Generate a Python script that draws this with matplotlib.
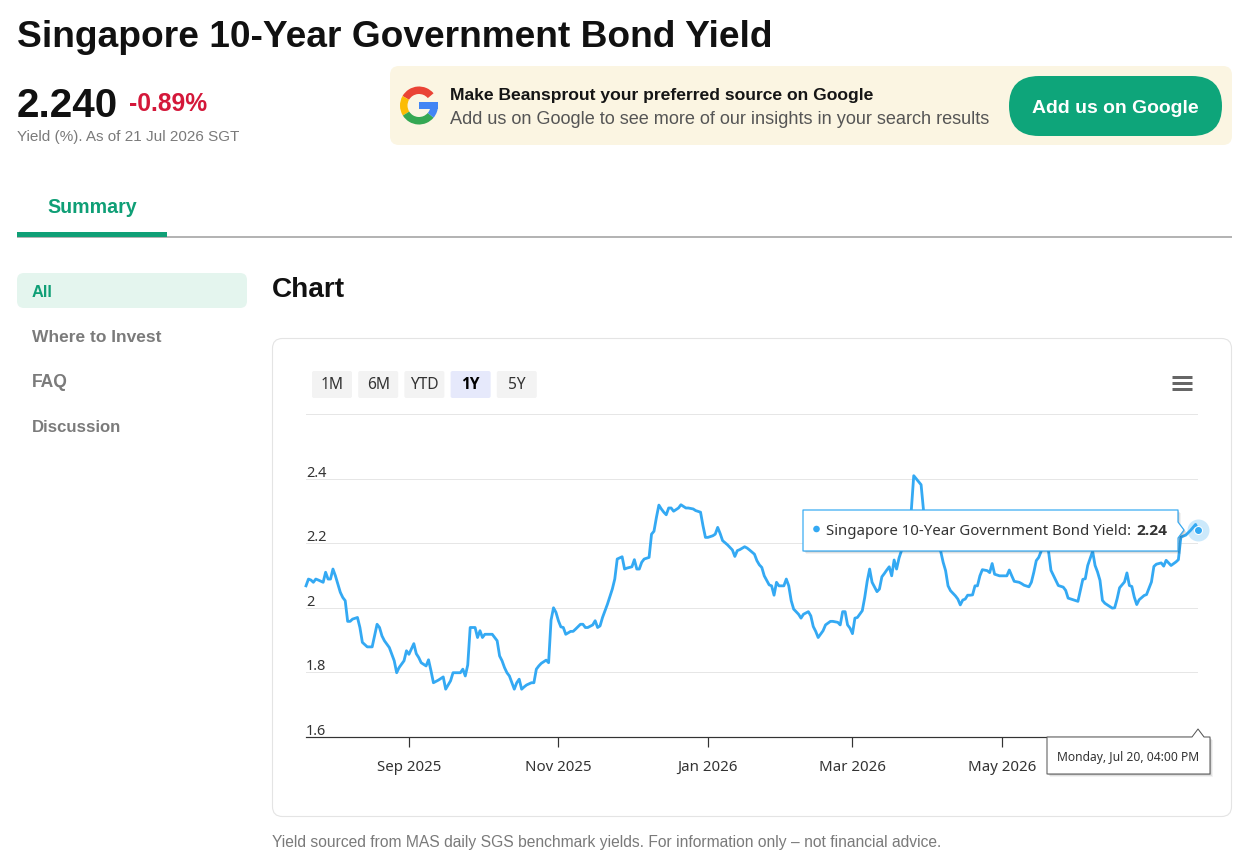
import matplotlib
matplotlib.use("Agg")
import matplotlib.pyplot as plt
import matplotlib.dates as mdates
from matplotlib.patches import FancyBboxPatch, Rectangle, Wedge, Polygon, Circle
import pandas as pd

W, H = 1251, 855
PX = 0.72  # points per pixel at dpi 100

# ---------------- data ----------------
start_date = "2025-07-21"
day_offset = [0, 1, 2, 3, 4, 5, 7, 8, 9, 10, 11, 12, 13, 14, 15, 16, 17, 18, 19, 21,
              22, 23, 25, 26, 27, 29, 30, 31, 32, 34, 35, 36, 37, 38, 40, 41, 42, 44, 45, 46,
              47, 49, 50, 51, 52, 54, 56, 57, 59, 60, 61, 63, 64, 65, 66, 67, 68, 69, 70, 71,
              72, 73, 75, 76, 78, 79, 80, 81, 82, 83, 85, 86, 87, 88, 89, 90, 92, 93, 94, 95,
              96, 98, 99, 100, 101, 102, 103, 104, 105, 106, 108, 109, 110, 112, 113, 114, 115, 117, 118, 119,
              120, 121, 123, 124, 125, 126, 127, 129, 130, 131, 133, 134, 135, 136, 137, 138, 140, 141, 142, 143,
              144, 145, 146, 147, 148, 149, 150, 152, 153, 155, 156, 158, 159, 161, 162, 163, 164, 166, 167, 168,
              169, 170, 172, 173, 174, 175, 176, 177, 179, 180, 181, 183, 184, 185, 186, 187, 189, 190, 191, 192,
              193, 194, 195, 196, 197, 198, 199, 201, 202, 203, 205, 206, 207, 208, 209, 211, 212, 214, 215, 217,
              218, 219, 220, 221, 222, 223, 224, 225, 227, 228, 229, 230, 231, 233, 234, 235, 236, 237, 238, 239,
              240, 241, 242, 243, 245, 247, 248, 251, 252, 254, 256, 259, 260, 261, 262, 263, 265, 266, 267, 268,
              269, 270, 271, 272, 273, 274, 275, 276, 278, 279, 280, 281, 283, 284, 286, 287, 288, 289, 291, 292,
              293, 295, 296, 297, 298, 299, 300, 301, 303, 304, 306, 307, 309, 310, 311, 313, 315, 316, 317, 318,
              319, 321, 322, 323, 324, 325, 326, 328, 329, 330, 331, 332, 334, 335, 336, 337, 338, 339, 340, 342,
              343, 345, 346, 347, 349, 350, 351, 352, 353, 355, 356, 357, 359, 361, 363, 364]
yield_pct = [2.068, 2.089, 2.086, 2.079, 2.089, 2.086, 2.079, 2.110, 2.089, 2.089, 2.120, 2.099, 2.073, 2.048, 2.032, 2.022, 1.958, 1.958, 1.965, 1.970,
             1.939, 1.893, 1.879, 1.879, 1.879, 1.949, 1.939, 1.913, 1.898, 1.877, 1.856, 1.836, 1.799, 1.815, 1.836, 1.867, 1.856, 1.889, 1.858, 1.846,
             1.830, 1.820, 1.839, 1.805, 1.768, 1.776, 1.786, 1.748, 1.774, 1.799, 1.799, 1.799, 1.810, 1.789, 1.823, 1.939, 1.939, 1.939, 1.908, 1.929,
             1.908, 1.918, 1.918, 1.918, 1.898, 1.851, 1.836, 1.815, 1.799, 1.789, 1.748, 1.768, 1.779, 1.748, 1.755, 1.761, 1.768, 1.768, 1.810, 1.820,
             1.828, 1.838, 1.830, 1.962, 2.000, 1.986, 1.960, 1.941, 1.939, 1.918, 1.927, 1.927, 1.934, 1.949, 1.949, 1.939, 1.939, 1.947, 1.960, 1.939,
             1.944, 1.970, 2.011, 2.034, 2.058, 2.089, 2.151, 2.158, 2.120, 2.123, 2.127, 2.149, 2.120, 2.120, 2.141, 2.151, 2.156, 2.228, 2.237, 2.280,
             2.318, 2.306, 2.296, 2.288, 2.309, 2.309, 2.299, 2.309, 2.319, 2.309, 2.309, 2.306, 2.301, 2.296, 2.254, 2.218, 2.218, 2.223, 2.228, 2.249,
             2.230, 2.208, 2.195, 2.187, 2.179, 2.159, 2.177, 2.180, 2.189, 2.185, 2.179, 2.166, 2.146, 2.133, 2.125, 2.099, 2.071, 2.068, 2.039, 2.079,
             2.068, 2.068, 2.068, 2.089, 2.068, 2.022, 1.996, 1.980, 1.968, 1.980, 1.988, 1.975, 1.942, 1.927, 1.908, 1.929, 1.947, 1.958, 1.958, 1.955,
             1.947, 1.988, 1.988, 1.947, 1.937, 1.920, 1.968, 1.970, 1.991, 2.032, 2.082, 2.120, 2.079, 2.050, 2.058, 2.096, 2.106, 2.117, 2.127, 2.099,
             2.148, 2.120, 2.154, 2.177, 2.240, 2.301, 2.409, 2.381, 2.301, 2.250, 2.210, 2.175, 2.141, 2.115, 2.068, 2.053, 2.037, 2.027, 2.009, 2.024,
             2.027, 2.039, 2.039, 2.040, 2.068, 2.068, 2.099, 2.118, 2.115, 2.109, 2.137, 2.104, 2.099, 2.099, 2.099, 2.117, 2.099, 2.082, 2.079, 2.075,
             2.070, 2.065, 2.079, 2.110, 2.146, 2.156, 2.175, 2.210, 2.175, 2.116, 2.085, 2.069, 2.064, 2.054, 2.030, 2.025, 2.020, 2.054, 2.088, 2.090,
             2.131, 2.175, 2.131, 2.111, 2.085, 2.023, 2.014, 2.004, 1.999, 2.000, 2.028, 2.062, 2.080, 2.108, 2.069, 2.066, 2.033, 2.010, 2.025, 2.038,
             2.041, 2.080, 2.128, 2.135, 2.139, 2.129, 2.147, 2.139, 2.131, 2.142, 2.149, 2.219, 2.225, 2.240, 2.258, 2.240]

y_ticks = [1.6, 1.8, 2.0, 2.2, 2.4, 2.6]
y_tick_labels = ["1.6", "1.8", "2", "2.2", "2.4", ""]
x_tick_dates = ["2025-09-01", "2025-11-01", "2026-01-01", "2026-03-01", "2026-05-01"]
x_tick_labels = ["Sep 2025", "Nov 2025", "Jan 2026", "Mar 2026", "May 2026"]
range_buttons = ["1M", "6M", "YTD", "1Y", "5Y"]
active_range = "1Y"
sidebar_items = ["All", "Where to Invest", "FAQ", "Discussion"]
series_name = "Singapore 10-Year Government Bond Yield"
last_value_label = "2.24"
hover_date_label = "Monday, Jul 20, 04:00 PM"

dates = pd.Timestamp(start_date) + pd.to_timedelta(day_offset, unit="D")

# ---------------- styling ----------------
PAGE = ["Liberation Sans", "DejaVu Sans"]
CHART = ["Noto Sans", "DejaVu Sans"]
CHART_B = ["Open Sans", "DejaVu Sans"]
GREEN = "#0f9f76"
LINE = "#34a9f3"

fig = plt.figure(figsize=(W / 100, H / 100), dpi=100)
fig.patch.set_facecolor("white")
renderer = fig.canvas.get_renderer()

bg = fig.add_axes([0, 0, 1, 1], zorder=0)
bg.set_xlim(0, W); bg.set_ylim(H, 0); bg.axis("off")
top = fig.add_axes([0, 0, 1, 1], zorder=5)
top.set_xlim(0, W); top.set_ylim(H, 0); top.axis("off")
top.patch.set_alpha(0)


def txt(a, x, y, s, width=None, size=12, **kw):
    t = a.text(x, y, s, fontsize=size, **kw)
    if width:
        w = t.get_window_extent(renderer).width
        t.set_fontsize(size * width / w)
    return t


def rbox(a, x0, y0, x1, y1, r, **kw):
    p = FancyBboxPatch((x0, y0), x1 - x0, y1 - y0,
                       boxstyle=f"round,pad=0,rounding_size={r}", **kw)
    a.add_patch(p)
    return p


# ---------------- header ----------------
txt(bg, 17, 47, series_name, width=755, size=27, family=PAGE, weight="bold",
    color="#111111", va="baseline")
txt(bg, 17, 117, "2.240", width=101, size=29, family=PAGE, weight="bold", color="#111111",
    va="baseline")
txt(bg, 129, 111, "-0.89%", width=78, size=17, family=PAGE, weight="bold", color="#d4183a",
    va="baseline")
txt(bg, 17, 141, "Yield (%). As of 21 Jul 2026 SGT", width=223, size=11, family=PAGE,
    color="#7a7a7a", va="baseline")

# banner
rbox(bg, 390, 66, 1232, 145, 9, facecolor="#fbf5e2", edgecolor="none")
gx, gy, R, rr = 419, 105.5, 19, 11.5
segs = [(40, 150, "#EA4335"), (150, 212, "#FBBC05"), (212, 320, "#34A853"), (320, 360, "#4285F4")]
for a0, a1, c in segs:
    bg.add_patch(Wedge((gx, gy), R, -a1, -a0, width=R - rr, facecolor=c, edgecolor="none"))
bg.add_patch(Rectangle((gx, gy - 3.6), R - 0.3, 7.4, facecolor="#4285F4", edgecolor="none"))
txt(bg, 450, 100, "Make Beansprout your preferred source on Google", width=422, size=12,
    family=PAGE, weight="bold", color="#151515", va="baseline")
txt(bg, 450, 124, "Add us on Google to see more of our insights in your search results",
    width=545, size=12, family=PAGE, color="#555555", va="baseline")
rbox(bg, 1009, 76, 1222, 136, 30, facecolor="#0ea57a", edgecolor="none")
txt(bg, 1115.5, 113, "Add us on Google", width=167, size=14, family=PAGE, weight="bold",
    color="white", ha="center", va="baseline")

# tabs
txt(bg, 47, 212.5, "Summary", width=90, size=14, family=PAGE, weight="bold", color=GREEN,
    va="baseline")
bg.add_patch(Rectangle((17, 236), 1215, 2, facecolor="#b4b4b4", edgecolor="none"))
bg.add_patch(Rectangle((17, 231.5), 150, 5, facecolor=GREEN, edgecolor="none"))

# sidebar
rbox(bg, 17, 273, 247, 308, 7, facecolor="#e4f5ee", edgecolor="none")
side_y = [297, 342, 387, 432]
side_w = [21, 130, 36, 90]
for i, item in enumerate(sidebar_items):
    txt(bg, 32, side_y[i], item, width=side_w[i], size=12.5, family=PAGE, weight="bold",
        color=GREEN if i == 0 else "#7b7b7b", va="baseline")

txt(bg, 272, 297, "Chart", width=73, size=21, family=PAGE, weight="bold", color="#111111",
    va="baseline")

# chart container
rbox(bg, 272.5, 338.5, 1231.5, 816.5, 10, facecolor="white", edgecolor="#e4e4e4", linewidth=0.8)

# range buttons
for i, lab in enumerate(range_buttons):
    x0 = 312 + i * 46.2
    active = lab == active_range
    rbox(bg, x0, 371, x0 + 40, 398, 2, facecolor="#e6e9fb" if active else "#f3f3f3",
         edgecolor="none")
    bg.text(x0 + 20, 385, lab, fontsize=15.5 * PX, family=CHART_B if active else CHART,
            ha="center", va="center",
            color="#000000" if active else "#333333", weight="bold" if active else "normal")

# hamburger
for yy in (377, 383, 389):
    bg.plot([1172, 1192], [yy, yy], color="#666666", lw=3 * PX, solid_capstyle="butt")

txt(bg, 272, 847, "Yield sourced from MAS daily SGS benchmark yields. For information only \u2013 not financial advice.",
    width=671, size=10.3, family=PAGE, color="#7a7a7a", va="baseline")

# ---------------- the chart ----------------
ax = fig.add_axes([306 / W, 1 - 737 / H, (1198 - 306) / W, (737 - 414) / H], zorder=2)
ax.patch.set_alpha(0)
ax.set_xlim(dates[0], dates[-1])
ax.set_ylim(y_ticks[0], y_ticks[-1])
ax.set_yticks(y_ticks)
ax.tick_params(axis="y", length=0, labelleft=False)
ax.yaxis.grid(True, color="#e6e6e6", lw=1 * PX)
ax.set_axisbelow(True)
for s in ("top", "right", "left"):
    ax.spines[s].set_visible(False)
ax.spines["bottom"].set_color("#333333")
ax.spines["bottom"].set_linewidth(1.2 * PX)
ax.spines["bottom"].set_zorder(3)

tick_d = pd.to_datetime(x_tick_dates)
ax.set_xticks(tick_d)
ax.set_xticklabels(x_tick_labels, family=CHART, fontsize=15 * PX, color="#333333")
ax.tick_params(axis="x", length=10 * PX, width=1.2 * PX, color="#333333", pad=12.5 * PX)

for v, lab in zip(y_ticks, y_tick_labels):
    if lab:
        ax.annotate(lab, xy=(dates[0], v), xytext=(0, 2), textcoords="offset pixels",
                    family=CHART, fontsize=14.5 * PX, color="#333333", ha="left", va="baseline",
                    annotation_clip=False)

# crosshair at hovered point
ax.axvline(dates[-1], color="#cccccc", lw=1 * PX, zorder=1)

ax.plot(dates, yield_pct, color=LINE, lw=2.8 * PX, zorder=2, solid_joinstyle="round",
        clip_on=False)
ax.plot(dates[-1], yield_pct[-1], "o", ms=22 * PX, color=LINE, alpha=0.25, mec="none",
        zorder=3, clip_on=False)
ax.plot(dates[-1], yield_pct[-1], "o", ms=8 * PX, color=LINE, mec="white", mew=1 * PX,
        zorder=4, clip_on=False)

# ---------------- tooltips ----------------
tip = [(803, 510), (1178, 510), (1178, 522), (1184, 530), (1178, 538), (1178, 551), (803, 551)]
for off, al in ((3, 0.05), (2, 0.08), (1, 0.12)):
    top.add_patch(Polygon([(x + off, y + off) for x, y in tip], closed=True,
                          facecolor="black", alpha=al, edgecolor="none"))
top.add_patch(Polygon(tip, closed=True, facecolor="white", edgecolor=LINE, lw=1.2 * PX,
                      joinstyle="round"))
top.add_patch(Circle((816.5, 529), 3.3, facecolor=LINE, edgecolor="none"))
txt(top, 826, 534.5, series_name + ":", width=305, size=11, family=CHART,
    color="#333333", va="baseline")
txt(top, 1136, 534.5, last_value_label, width=31, size=11, family=CHART_B, weight="bold",
    color="#333333", va="baseline")

tip2 = [(1047, 737), (1192, 737), (1198, 729), (1204, 737), (1210, 737), (1210, 774), (1047, 774)]
for off, al in ((3, 0.05), (2, 0.08), (1, 0.12)):
    top.add_patch(Polygon([(x + off, y + off) for x, y in tip2], closed=True,
                          facecolor="black", alpha=al, edgecolor="none"))
top.add_patch(Polygon(tip2, closed=True, facecolor="white", edgecolor="#555555", lw=1 * PX,
                      joinstyle="round"))
txt(top, 1128, 761, hover_date_label, width=142, size=9.5, family=CHART, color="#333333",
    ha="center", va="baseline")

fig.savefig("out.png", dpi=100, facecolor="white")
